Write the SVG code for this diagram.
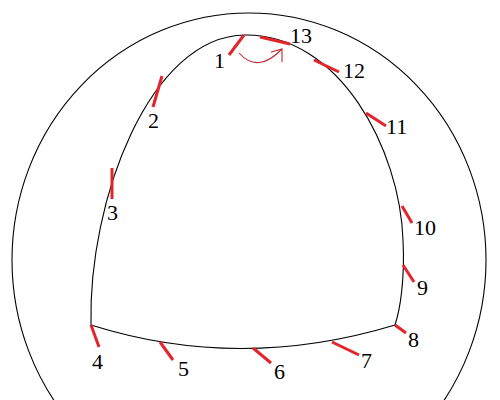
<svg xmlns="http://www.w3.org/2000/svg" width="500" height="400" viewBox="0 0 500 400">
<defs>
<style>
.line{fill:none;stroke:#000;stroke-width:1.1}
.tick{stroke:#e3242b;stroke-width:3;stroke-linecap:butt;fill:none}
.lbl{font-family:"Liberation Serif","Times New Roman",serif;font-size:22px;fill:#000}
.arr{fill:none;stroke:#c0282e;stroke-width:1.1}
</style>
</defs>
<rect width="500" height="400" fill="#fff"/>
<g id="outer"><ellipse class="line" cx="249" cy="260" rx="237" ry="247"/></g>
<g id="tunnel"><path class="line" d="M 91 325 C 88 200, 150 36, 245 35 C 340 34, 400 150, 403 240 C 405 280, 400 310, 395 325 Q 240 372, 91 325 Z"/></g>
<g id="marks">
<g id="m1"><line class="tick" x1="244" y1="35" x2="229" y2="55"/><text class="lbl" x="214" y="68">1</text></g>
<g id="m2"><line class="tick" x1="162" y1="76" x2="153" y2="107"/><text class="lbl" x="148" y="128">2</text></g>
<g id="m3"><line class="tick" x1="112" y1="168" x2="112" y2="199"/><text class="lbl" x="107" y="220">3</text></g>
<g id="m4"><line class="tick" x1="91" y1="325" x2="99" y2="347"/><text class="lbl" x="92" y="369">4</text></g>
<g id="m5"><line class="tick" x1="160" y1="342" x2="173" y2="360"/><text class="lbl" x="178" y="376">5</text></g>
<g id="m6"><line class="tick" x1="253" y1="348" x2="271" y2="363"/><text class="lbl" x="274" y="379">6</text></g>
<g id="m7"><line class="tick" x1="332" y1="342" x2="359" y2="355"/><text class="lbl" x="361" y="368">7</text></g>
<g id="m8"><line class="tick" x1="395" y1="325" x2="406" y2="333"/><text class="lbl" x="408" y="347">8</text></g>
<g id="m9"><line class="tick" x1="403" y1="265" x2="414" y2="282"/><text class="lbl" x="417" y="295">9</text></g>
<g id="m10"><line class="tick" x1="402" y1="206" x2="412" y2="223"/><text class="lbl" x="414" y="235">10</text></g>
<g id="m11"><line class="tick" x1="366" y1="113" x2="386" y2="126"/><text class="lbl" x="386" y="134">11</text></g>
<g id="m12"><line class="tick" x1="314" y1="60" x2="339" y2="72"/><text class="lbl" x="343" y="78">12</text></g>
<g id="m13"><line class="tick" x1="260" y1="37" x2="290" y2="44"/><text class="lbl" x="290" y="43">13</text></g>
</g>
<g id="connectors">
<path class="arr" d="M 239 53 Q 258 74, 282 49"/>
<path class="arr" d="M 271 52 L 282 49 L 282 62"/>
</g>
</svg>
